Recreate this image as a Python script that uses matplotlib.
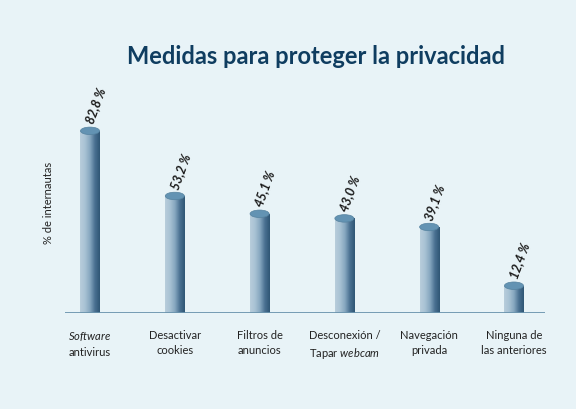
import matplotlib.pyplot as plt
import numpy as np
from matplotlib.colors import LinearSegmentedColormap
from matplotlib.patches import Ellipse

plt.rcParams['font.family'] = ['Lato', 'DejaVu Sans']
plt.rcParams['mathtext.fontset'] = 'custom'
plt.rcParams['mathtext.rm'] = 'Lato'
plt.rcParams['mathtext.it'] = 'Lato:italic'

categorias = ["$\\mathit{Software}$\nantivirus", "Desactivar\ncookies", "Filtros de\nanuncios",
              "Desconexión /\nTapar $\\mathit{webcam}$", "Navegación\nprivada", "Ninguna de\nlas anteriores"]
valores = [82.8, 53.2, 45.1, 43.0, 39.1, 12.4]
etiquetas = ["82,8 %", "53,2 %", "45,1 %", "43,0 %", "39,1 %", "12,4 %"]

fondo = '#e8f3f7'
fig = plt.figure(figsize=(5.76, 4.09), dpi=100, facecolor=fondo)
ax = fig.add_axes([65 / 576, 96 / 409, 480 / 576, 220 / 409])
ax.set_facecolor(fondo)

cmap = LinearSegmentedColormap.from_list('cil', ['#b8cddb', '#a8c2d4', '#86a7bf', '#4a7192', '#2f5675'])
grad = np.linspace(0, 1, 100).reshape(1, -1)

x = np.arange(len(valores))
ancho = 0.225
barras = ax.bar(x, valores, width=ancho, color='none', edgecolor='none')
for xi, v, b, lab in zip(x, valores, barras, etiquetas):
    im = ax.imshow(grad, cmap=cmap, aspect='auto',
                   extent=[xi - ancho / 2, xi + ancho / 2, 0, v], zorder=2)
    im.set_clip_path(b)
    ax.add_patch(Ellipse((xi, v), ancho, 3.4, facecolor='#6393b3', edgecolor='#55829f',
                         lw=0.5, zorder=3))
    ax.text(xi - 0.01, v + 3.4, lab, rotation=70, rotation_mode='anchor', ha='left', va='center',
            fontsize=9, fontweight='bold', fontstyle='italic', color='#1a1a1a')

ax.axhline(0, color='#6a93ad', lw=2, zorder=4)
ax.set_xlim(-0.295, 5.366)
ax.set_ylim(0, 100)
ax.set_xticks(x)
ax.set_xticklabels(categorias, fontsize=8, color='#222222', linespacing=1.5)
ax.tick_params(axis='x', length=0, pad=12)
ax.set_yticks([])
for s in ax.spines.values():
    s.set_visible(False)
ax.set_ylabel("% de internautas", fontsize=8, color='#222222', labelpad=8)

fig.text(316 / 576, 1 - 56 / 409, "Medidas para proteger la privacidad", ha='center', va='center',
         fontsize=17, fontweight='bold', color='#0f3d60')

fig.savefig('out.png', dpi=100, facecolor=fondo)
